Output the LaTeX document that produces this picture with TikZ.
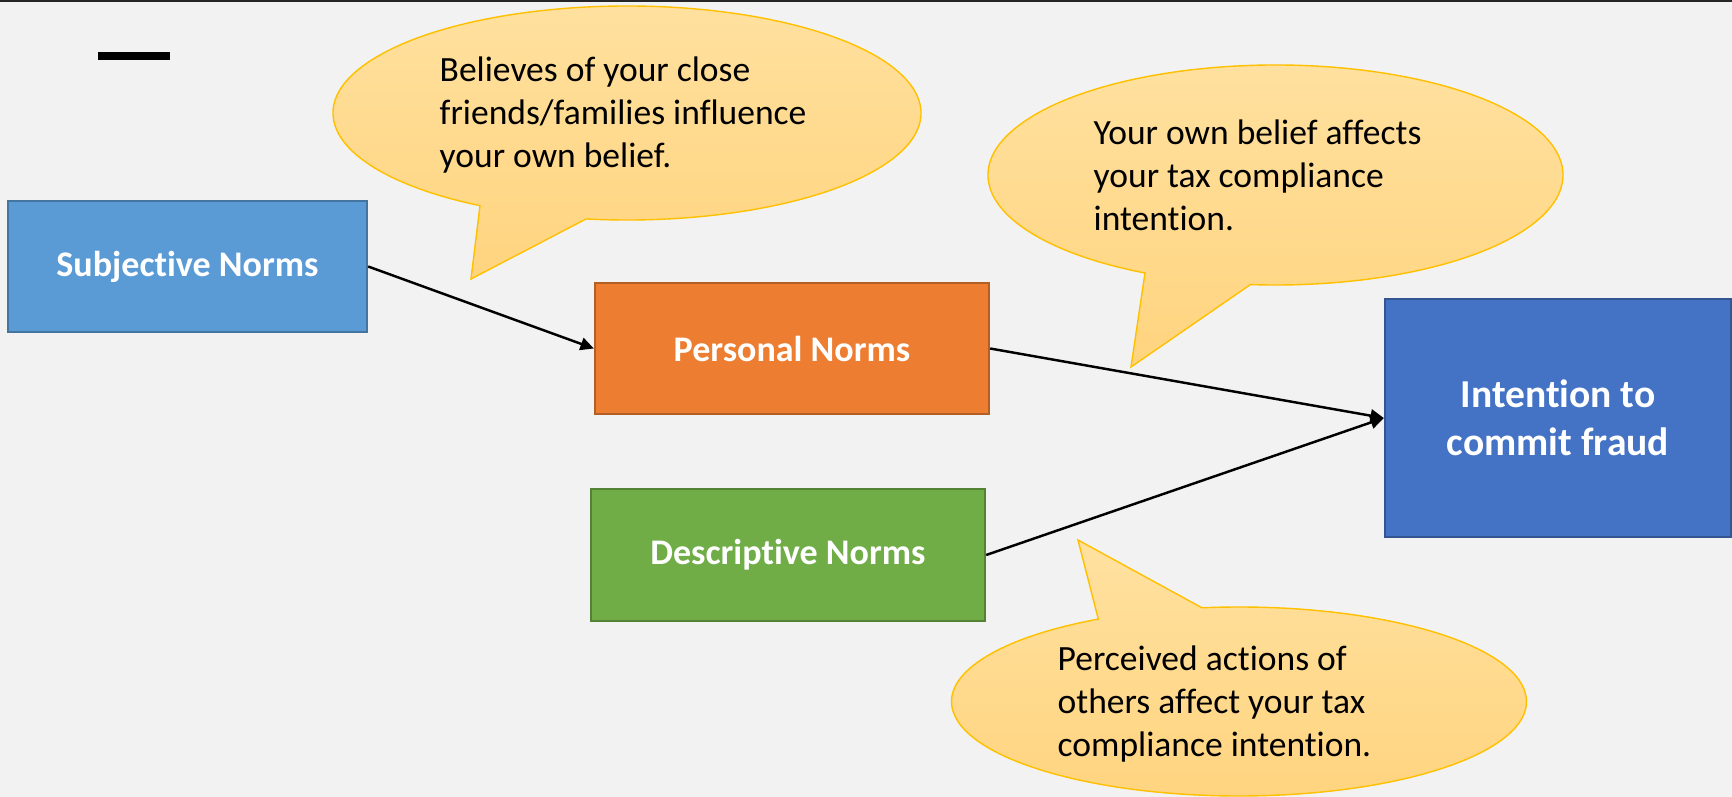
\documentclass[tikz,border=0pt]{standalone}
\usepackage{fontspec}
\setmainfont[Ligatures=NoCommon]{Carlito}
\usetikzlibrary{positioning,arrows.meta}
\definecolor{bgcol}{HTML}{F2F2F2}
\definecolor{subjcol}{HTML}{5B9BD5}
\definecolor{perscol}{HTML}{ED7D31}
\definecolor{desccol}{HTML}{70AD47}
\definecolor{intcol}{HTML}{4472C4}
\definecolor{bubtop}{HTML}{FFE1A0}
\definecolor{bubbot}{HTML}{FFD47F}
\definecolor{bubline}{HTML}{FFC000}
\tikzset{
  normbox/.style={draw, line width=0.6pt, text=white, inner sep=0pt, align=center,
    font=\fontsize{10.25}{12.3}\selectfont\bfseries},
  link/.style={line width=0.7pt, -{Triangle[length=3.8pt,width=3.6pt]}},
  bubble/.style={draw=bubline, line width=0.4pt, top color=bubtop, bottom color=bubbot},
  % anchored on the baseline of the last line
  bubtext/.style={anchor=base west, inner sep=0pt, align=left,
    font=\fontsize{10.1}{12.1}\selectfont}
}

\begin{document}
\begin{tikzpicture}[x=0.01cm,y=-0.01cm]
  \useasboundingbox (0,0) rectangle (1732,797);
  \fill[bgcol] (0,0) rectangle (1732,797);
  \draw[line width=0.6pt, black!85] (0,0.5) -- (1732,0.5);
  \fill[black] (98,52) rectangle (170,60);

  % the four norms
  \node[normbox, fill=subjcol, draw=subjcol!75!black, minimum width=3.59cm, minimum height=1.31cm]
    (subj) at (187.5,266.5) {Subjective Norms};
  \node[normbox, fill=perscol, draw=perscol!75!black, minimum width=3.94cm, minimum height=1.31cm]
    (pers) at (792,348.5) {Personal Norms};
  \node[normbox, fill=desccol, draw=desccol!75!black, minimum width=3.94cm, minimum height=1.32cm]
    (desc) at (788,555) {Descriptive Norms};
  \node[normbox, fill=intcol, draw=intcol!75!black, minimum width=3.46cm, minimum height=2.38cm,
    font=\fontsize{11.25}{13.7}\selectfont\bfseries]
    (intent) at (1558,418) {Intention to\\commit fraud};

  % speech bubbles
  \draw[bubble] (627,113) ++(120:294 and 107)
    arc[start angle=120, end angle=458, x radius=294, y radius=107] -- (471,279) -- cycle;
  \draw[bubble] (1275.5,175) ++(117:287.5 and 110)
    arc[start angle=117, end angle=455, x radius=287.5, y radius=110] -- (1131,367) -- cycle;
  \draw[bubble] (1239,701.5) ++(262.6:287.5 and 94.5)
    arc[start angle=262.6, end angle=600.7, x radius=287.5, y radius=94.5] -- (1078,540) -- cycle;

  \node[bubtext] (note1) at (439,167) {Believes of your close\\friends/families influence\\your own belief.};
  \node[bubtext] (note2) at (1093,230) {Your own belief affects\\your tax compliance\\intention.};
  \node[bubtext] (note3) at (1057,756) {Perceived actions of\\others affect your tax\\compliance intention.};

  \draw[link] (subj.east) -- (pers.west);
  \draw[link] (pers.east) -- (intent.west);
  \draw[link] (desc.east) -- (intent.west);
\end{tikzpicture}
\end{document}
